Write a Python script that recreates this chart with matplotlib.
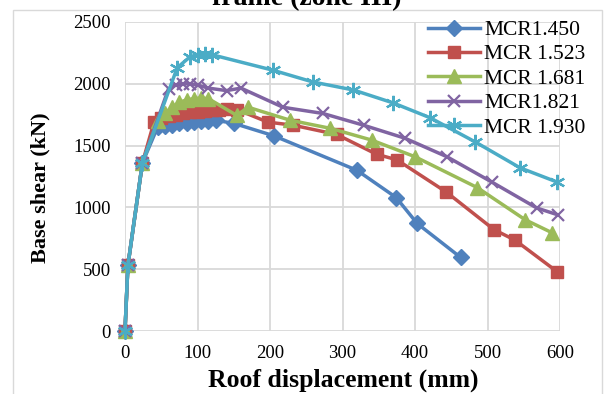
import matplotlib.pyplot as plt
from matplotlib.patches import Rectangle

plt.rcParams['font.family'] = ['Liberation Serif', 'DejaVu Serif']

# pushover curves, roof displacement (mm) vs base shear (kN)
x_1450 = [0, 4, 24, 45, 55, 65, 75, 85, 95, 105, 115, 125, 150, 205, 320, 374, 403, 463]
v_1450 = [0, 530, 1360, 1650, 1660, 1670, 1680, 1685, 1690, 1695, 1700, 1705, 1680, 1580, 1300, 1080, 870, 595]

x_1523 = [0, 4, 24, 40, 50, 60, 70, 80, 90, 100, 110, 120, 130, 140, 155, 197, 232, 292, 347, 375, 443, 509, 538, 596]
v_1523 = [0, 530, 1360, 1690, 1720, 1740, 1750, 1760, 1770, 1775, 1780, 1785, 1790, 1795, 1790, 1690, 1665, 1590, 1430, 1385, 1125, 820, 735, 480]

x_1681 = [0, 4, 24, 45, 55, 65, 75, 85, 95, 105, 115, 154, 170, 228, 283, 340, 400, 486, 552, 589]
v_1681 = [0, 530, 1360, 1700, 1760, 1810, 1850, 1870, 1880, 1885, 1880, 1745, 1810, 1705, 1640, 1545, 1410, 1160, 900, 795]

x_1821 = [0, 4, 24, 60, 70, 80, 90, 100, 115, 140, 160, 218, 273, 329, 386, 444, 506, 568, 597]
v_1821 = [0, 530, 1360, 1960, 1990, 2000, 2000, 1990, 1965, 1945, 1965, 1810, 1760, 1665, 1560, 1410, 1205, 995, 940]

x_1930 = [0, 4, 24, 72, 90, 100, 110, 120, 204, 259, 315, 370, 421, 483, 545, 596]
v_1930 = [0, 530, 1360, 2130, 2220, 2235, 2240, 2235, 2110, 2015, 1950, 1845, 1725, 1530, 1320, 1205]

series = [
    ('MCR1.450', x_1450, v_1450, '#4F81BD', 'D', 8),
    ('MCR 1.523', x_1523, v_1523, '#C0504D', 's', 9),
    ('MCR 1.681', x_1681, v_1681, '#9BBB59', '^', 10),
    ('MCR1.821', x_1821, v_1821, '#8064A2', 'x', 8.5),
    ('MCR 1.930', x_1930, v_1930, '#4BACC6', (6, 2, 0), 11),
]

fig = plt.figure(figsize=(6.05, 3.94), dpi=100)
ax = fig.add_axes([125 / 605, 1 - 331 / 394, 435 / 605, 309 / 394])

# outer chart border
fig.patches.append(Rectangle((13 / 605, -0.1), 589 / 605, 1 - 10 / 394 + 0.1,
                             transform=fig.transFigure, fill=False,
                             edgecolor='#d9d9d9', linewidth=1))

for label, xs, vs, color, marker, ms in series:
    ax.plot(xs, vs, color=color, linewidth=2.5, marker=marker, markersize=ms,
            markeredgewidth=1.6 if marker in ('x', (6, 2, 0)) else 1,
            label=label, clip_on=False, zorder=3)

ax.set_xlim(0, 600)
ax.set_ylim(0, 2500)
ax.set_xticks(range(0, 601, 100))
ax.set_yticks(range(0, 2501, 500))
ax.grid(True, color='#d9d9d9', linewidth=1.3)
ax.set_axisbelow(True)
for s in ax.spines.values():
    s.set_visible(False)
ax.tick_params(length=0, labelsize=13.5, pad=10)

fig.text(343 / 605, 1 - 380 / 394, 'Roof displacement (mm)', ha='center', va='center',
         fontsize=18.5, fontweight='bold')
fig.text(40 / 605, 1 - 188 / 394, 'Base shear (kN)', ha='center', va='center',
         rotation=90, fontsize=16, fontweight='bold')
# title is cut off at the top edge, as in the source figure
fig.text(307 / 605, 1 - 5 / 394, 'frame (zone III)', ha='center', va='baseline',
         fontsize=20, fontweight='bold')

ax.legend(loc='upper left', bbox_to_anchor=(414 / 605, 1 - 6 / 394),
          bbox_transform=fig.transFigure, frameon=False, fontsize=15.5,
          handlelength=2.4, handletextpad=0.2, labelspacing=0.2, borderpad=0.15)

fig.savefig('out.png', dpi=100)
